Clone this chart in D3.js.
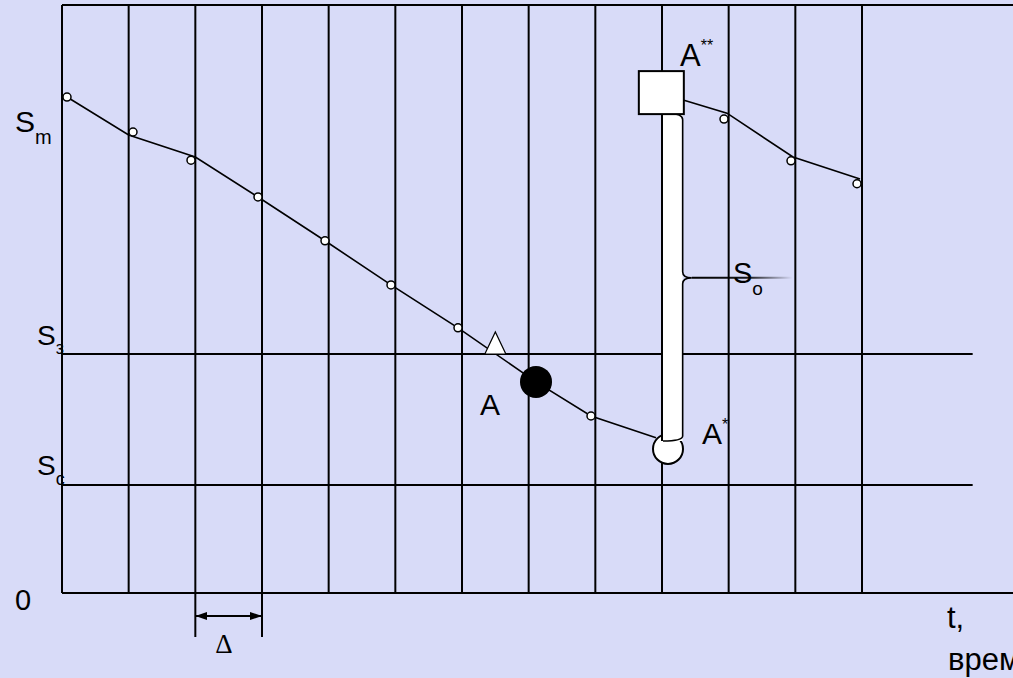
<!DOCTYPE html>
<html>
<head>
<meta charset="utf-8">
<script src="https://cdn.jsdelivr.net/npm/d3@7"></script>
<style>
body { margin: 0; background: #d8dbf8; }
svg { display: block; }
text { font-family: "Liberation Sans", Arial, sans-serif; fill: #000; }
</style>
</head>
<body>
<svg id="chart" width="1013" height="678"></svg>
<script>
// time grid (in Δ steps) and stock levels
var gridSteps = [0, 1, 2, 3, 4, 5, 6, 7, 8, 9, 10, 11, 12];
var levelNames = ["з", "c"];
var levelValues = [40.65, 18.37];

// stock curve before the order arrives
var stockA = [[0.075, 84.35], [1.0, 77.9], [2.0, 74.15], [2.94, 67.35], [3.945, 59.9],
	[4.935, 52.4], [5.94, 45.1], [7.11, 35.9], [7.935, 30.1], [8.91, 26.4]];
var dotsA = [[0.075, 84.35], [1.065, 78.4], [1.935, 73.6], [2.94, 67.35], [3.945, 59.9],
	[4.935, 52.4], [5.94, 45.1], [7.935, 30.1]];
// stock curve after the order
var stockB = [[9.33, 83.8], [9.975, 81.6], [10.965, 74.15], [11.97, 70.4]];
var dotsB = [[9.93, 80.6], [10.935, 73.5], [11.925, 69.6]];

var triPoint = [6.5, 40.65];      // crossing of S_з
var orderPoint = [7.11, 35.9];    // A
var lowPoint = [9.09, 24.5];      // A*
var highPoint = [8.99, 85.1];     // A**
var barT = [9.0, 9.31];
var barS = [25.85, 81.5];
var braceTipS = 53.6;
var deltaSteps = [2, 3];

var svg = d3.select("#chart"),
	width = +svg.attr("width"),
	height = +svg.attr("height");

var x = d3.scaleLinear().domain([0, 14.265]).range([62, 1013]);
var y = d3.scaleLinear().domain([0, 100]).range([593, 5]);

svg.append("rect").attr("width", width).attr("height", height).attr("fill", "#d8dbf8");

var defs = svg.append("defs");
var grad = defs.append("linearGradient").attr("id", "fade");
grad.append("stop").attr("offset", "0%").attr("stop-color", "#000").attr("stop-opacity", 1);
grad.append("stop").attr("offset", "55%").attr("stop-color", "#000").attr("stop-opacity", 0.9);
grad.append("stop").attr("offset", "100%").attr("stop-color", "#000").attr("stop-opacity", 0);
defs.append("marker").attr("id", "arrow")
	.attr("viewBox", "0 0 12 8").attr("refX", 12).attr("refY", 4)
	.attr("markerWidth", 12).attr("markerHeight", 8).attr("markerUnits", "userSpaceOnUse")
	.attr("orient", "auto-start-reverse")
	.append("path").attr("d", "M0,0 L12,4 L0,8 Z").attr("fill", "#000");

// grid
var g = svg.append("g").attr("stroke", "#000").attr("stroke-width", 2);
g.selectAll("line.v").data(gridSteps).enter().append("line")
	.attr("x1", function(d) { return x(d); }).attr("x2", function(d) { return x(d); })
	.attr("y1", y(100)).attr("y2", y(0));
g.append("line").attr("x1", x(0)).attr("x2", width).attr("y1", y(100)).attr("y2", y(100));
g.append("line").attr("x1", x(0)).attr("x2", width).attr("y1", y(0)).attr("y2", y(0));
g.selectAll("line.h").data(levelValues).enter().append("line")
	.attr("x1", x(0)).attr("x2", x(13.66))
	.attr("y1", function(d) { return y(d); }).attr("y2", function(d) { return y(d); });

// Δ dimension
g.selectAll("line.d").data(deltaSteps).enter().append("line")
	.attr("x1", function(d) { return x(d); }).attr("x2", function(d) { return x(d); })
	.attr("y1", y(0)).attr("y2", y(0) + 44);
svg.append("line").attr("stroke", "#000").attr("stroke-width", 2)
	.attr("x1", x(deltaSteps[0])).attr("x2", x(deltaSteps[1]))
	.attr("y1", y(0) + 23).attr("y2", y(0) + 23)
	.attr("marker-start", "url(#arrow)").attr("marker-end", "url(#arrow)");

// stock lines
var line = d3.line().x(function(d) { return x(d[0]); }).y(function(d) { return y(d[1]); });
[stockA, stockB].forEach(function(s) {
	svg.append("path").attr("d", line(s)).attr("fill", "none")
		.attr("stroke", "#000").attr("stroke-width", 1.6);
});
svg.selectAll("circle.dot").data(dotsA.concat(dotsB)).enter().append("circle")
	.attr("cx", function(d) { return x(d[0]); }).attr("cy", function(d) { return y(d[1]); })
	.attr("r", 4).attr("fill", "#fff").attr("stroke", "#000").attr("stroke-width", 1.5);

// triangle on S_з
var tx = x(triPoint[0]), ty = y(triPoint[1]);
svg.append("path").attr("d", "M" + (tx - 10.5) + "," + ty + "L" + tx + "," + (ty - 22) + "L" + (tx + 10.5) + "," + ty + "Z")
	.attr("fill", "#fff").attr("stroke", "#000").attr("stroke-width", 1.2);

// A
svg.append("circle").attr("cx", x(orderPoint[0])).attr("cy", y(orderPoint[1])).attr("r", 16).attr("fill", "#000");

// A* circle
svg.append("circle").attr("cx", x(lowPoint[0])).attr("cy", y(lowPoint[1])).attr("r", 15)
	.attr("fill", "#fff").attr("stroke", "#000").attr("stroke-width", 2);

// replenishment bar with brace
var bx0 = x(barT[0]), bx1 = x(barT[1]), by0 = y(barS[1]), by1 = y(barS[0]), tipY = y(braceTipS);
svg.append("rect").attr("x", bx0 + 1).attr("y", by0).attr("width", bx1 - bx0 - 1).attr("height", by1 - by0)
	.attr("fill", "#fff");
svg.append("line").attr("x1", bx0).attr("x2", bx0).attr("y1", by0).attr("y2", by1)
	.attr("stroke", "#000").attr("stroke-width", 2);
svg.append("path")
	.attr("d", "M" + (bx0 + 8) + "," + by0 + " Q" + bx1 + "," + by0 + " " + bx1 + "," + (by0 + 6) +
		" L" + bx1 + "," + (tipY - 6) + " Q" + bx1 + "," + tipY + " " + (bx1 + 9) + "," + tipY +
		" Q" + bx1 + "," + tipY + " " + bx1 + "," + (tipY + 6) +
		" L" + bx1 + "," + (by1 - 5) + " Q" + bx1 + "," + by1 + " " + (bx0 + 1) + "," + by1)
	.attr("fill", "none").attr("stroke", "#000").attr("stroke-width", 1.6);
svg.append("line").attr("x1", bx1 + 9).attr("x2", bx1 + 110).attr("y1", tipY).attr("y2", tipY + 0.01)
	.attr("stroke", "url(#fade)").attr("stroke-width", 2);

// A** square
var sx = x(highPoint[0]), sy = y(highPoint[1]);
svg.append("rect").attr("x", sx - 22.5).attr("y", sy - 21.5).attr("width", 45).attr("height", 43)
	.attr("fill", "#fff").attr("stroke", "#000").attr("stroke-width", 2);

// labels
function label(px, py, main, sub, size, subSize, subDy) {
	var t = svg.append("text").attr("x", px).attr("y", py).style("font-size", size + "px").text(main);
	if (sub) t.append("tspan").attr("dy", subDy).style("font-size", subSize + "px").text(sub);
	return t;
}
label(15, 132, "S", "m", 30, 20, 12);
label(37, y(levelValues[0]) - 9, "S", levelNames[0], 28, 18, 9);
label(37, y(levelValues[1]) - 10, "S", levelNames[1], 28, 18, 10);
label(15, 610, "0", null, 29);
label(480, 415, "A", null, 30);
label(702, 444, "A", "*", 30, 16, -14);
label(680, 66, "A", "**", 31, 16, -15);
label(733, 283, "S", "o", 29, 19, 12);
label(947, 628, "t,", null, 31);
label(948, 670, "время", null, 31);
svg.append("text").attr("x", 224).attr("y", 653).attr("text-anchor", "middle")
	.style("font-family", "'Liberation Serif', serif").style("font-size", "27px").text("Δ");
</script>
</body>
</html>
